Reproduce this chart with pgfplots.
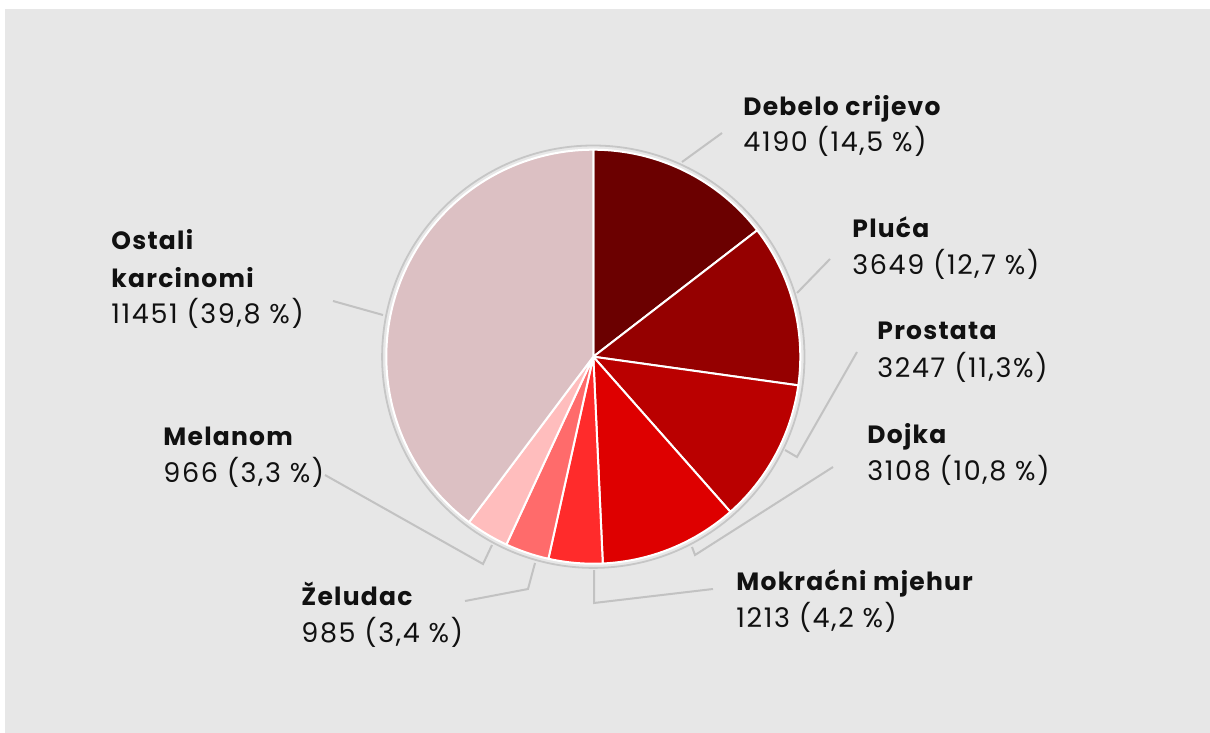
\documentclass[border=0pt]{standalone}
\usepackage{pgfplots}
\pgfplotsset{compat=1.18}
\usepackage{pgfplotstable}
\usepackage{fontspec}
\setmainfont{Poppins}
\newfontfamily\lblfont{Poppins}[LetterSpace=5]
\newfontfamily\valfont{Poppins}[LetterSpace=6]
\definecolor{cA}{HTML}{6B0000}
\definecolor{cB}{HTML}{950000}
\definecolor{cC}{HTML}{BA0000}
\definecolor{cD}{HTML}{DE0000}
\definecolor{cE}{HTML}{FF2B2B}
\definecolor{cF}{HTML}{FF6B6B}
\definecolor{cG}{HTML}{FFBDBD}
\definecolor{cH}{HTML}{DCC0C3}
\definecolor{bg}{HTML}{E7E7E7}
\definecolor{ring}{HTML}{C6C6C6}
\definecolor{lead}{HTML}{C2C2C2}
\definecolor{txt}{HTML}{111111}

% values of the slices, clockwise from the top
\pgfplotstableread{
value cx cy
4190 593.3 356.7
3649 593.3 356.7
3247 593.3 356.7
3108 593.3 356.7
1213 593.3 356.7
985 593.3 356.7
966 593.3 356.7
11451 593.3 356.7
}\pietable
\gdef\runsum{0}
\pgfplotstablecreatecol[create col/assign/.code={%
  \getthisrow{value}\pievalue
  \xdef\runsum{\fpeval{\runsum+\pievalue}}%
  \pgfkeyslet{/pgfplots/table/create col/next content}\runsum}]{cum}\pietable
\let\pietotal\runsum
\pgfplotstablecreatecol[create col/assign/.code={%
  \getthisrow{value}\pievalue
  \getthisrow{cum}\piecum
  \xdef\pietmp{\fpeval{round(90-(\piecum-\pievalue)*360/\pietotal,4)}}%
  \pgfkeyslet{/pgfplots/table/create col/next content}\pietmp}]{sa}\pietable
\pgfplotstablecreatecol[create col/assign/.code={%
  \getthisrow{cum}\piecum
  \xdef\pietmp{\fpeval{round(90-\piecum*360/\pietotal,4)}}%
  \pgfkeyslet{/pgfplots/table/create col/next content}\pietmp}]{ea}\pietable

\newcommand\lbl[3]{\node[anchor=base west, inner sep=0pt, text=txt, font=\lblfont\fontsize{12.5}{14}\selectfont\bfseries] at (axis cs:#1,#2) {#3};}
\newcommand\val[3]{\node[anchor=base west, inner sep=0pt, text=txt, font=\valfont\fontsize{13.5}{15}\selectfont] at (axis cs:#1,#2) {#3};}

\begin{document}
\begin{tikzpicture}
\begin{axis}[
  x=0.5pt, y=0.5pt,
  xmin=0, xmax=1210, ymin=0, ymax=733,
  y dir=reverse,
  hide axis, clip=false,
]
\fill[white] (axis cs:0,0) rectangle (axis cs:1210,733);
\fill[bg] (axis cs:5,9) rectangle (axis cs:1210,733);

\addplot[scatter, only marks, mark=*, mark size=0pt,
  mark options={draw=none, fill=none},
  visualization depends on={\thisrow{sa} \as \psa},
  visualization depends on={\thisrow{ea} \as \pea},
  visualization depends on={\coordindex \as \pidx},
  scatter/@pre marker code/.code={%
    \pgfmathtruncatemacro\pk{\pidx}%
    \ifcase\pk \def\pc{cA}\or \def\pc{cB}\or \def\pc{cC}\or \def\pc{cD}\or
      \def\pc{cE}\or \def\pc{cF}\or \def\pc{cG}\else \def\pc{cH}\fi
    \fill[fill=\pc, draw=white, line width=1pt, line join=round]
      (0,0) -- (\psa:103.5pt) arc[start angle=\psa, end angle=\pea, radius=103.5pt] -- cycle;
  },
  scatter/@post marker code/.code={},
] table[x=cx, y=cy] {\pietable};

\draw[ring, line width=0.9pt] (axis cs:593.3,356.7) circle[radius=105.6pt];

% leader lines
\begin{scope}[lead, line width=1pt]
\draw (axis cs:682,162) -- (axis cs:722,133);
\draw (axis cs:797,293) -- (axis cs:830,259);
\draw (axis cs:785,450) -- (axis cs:797,457) -- (axis cs:857,352);
\draw (axis cs:692,547) -- (axis cs:695,555) -- (axis cs:833,467);
\draw (axis cs:594,570) -- (axis cs:594,603) -- (axis cs:713,589);
\draw (axis cs:535,563) -- (axis cs:528,589) -- (axis cs:465,601);
\draw (axis cs:492,545) -- (axis cs:483,564) -- (axis cs:325,475);
\draw (axis cs:383,315) -- (axis cs:333,301);
\end{scope}

% labels
\lbl{743}{116}{Debelo crijevo}
\val{743}{152}{4190 (14,5 \%)}
\lbl{852}{237}{Pluća}
\val{852}{274}{3649 (12,7 \%)}
\lbl{877}{339}{Prostata}
\val{877}{377}{3247 (11,3\%)}
\lbl{867}{443}{Dojka}
\val{867}{480}{3108 (10,8 \%)}
\lbl{736}{590}{Mokraćni mjehur}
\val{736}{627}{1213 (4,2 \%)}
\lbl{301}{605}{Želudac}
\val{301}{642}{985 (3,4 \%)}
\lbl{111}{249}{Ostali}
\lbl{111}{287}{karcinomi}
\val{111}{323}{11451 (39,8 \%)}
\lbl{163}{445}{Melanom}
\val{163}{482}{966 (3,3 \%)}
\end{axis}
\end{tikzpicture}
\end{document}
